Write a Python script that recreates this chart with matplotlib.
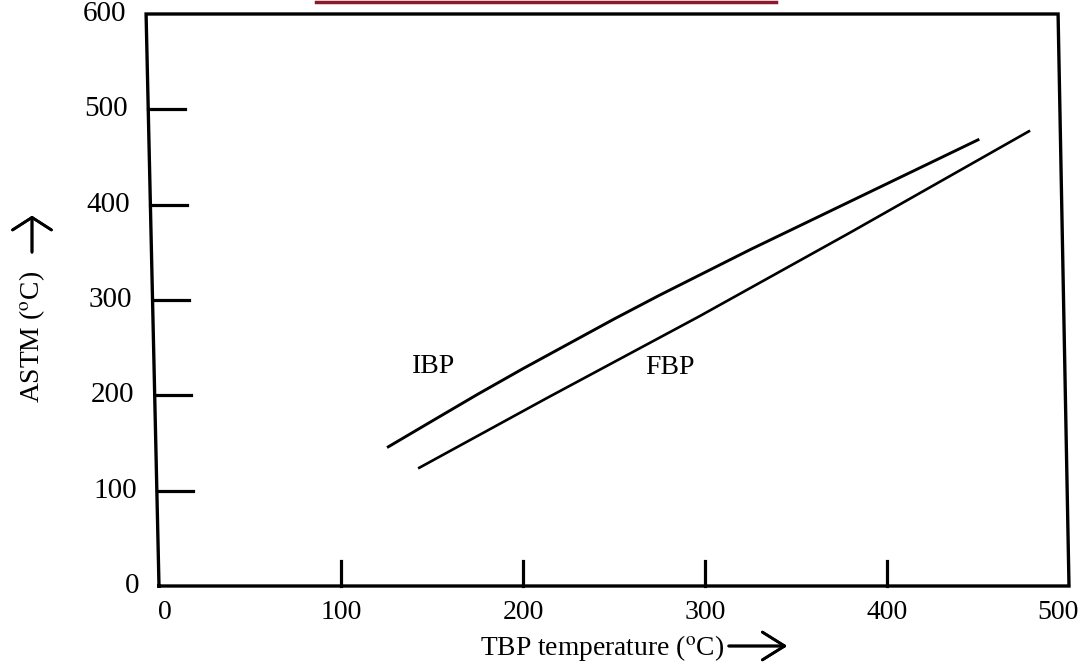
import numpy as np
import matplotlib.pyplot as plt
from matplotlib.lines import Line2D

plt.rcParams['font.family'] = ['Liberation Serif', 'DejaVu Serif']
plt.rcParams['mathtext.fontset'] = 'stix'

# datos (TBP vs ASTM)
ibp_tbp = [126, 150, 175, 200, 225, 250, 275, 300, 325, 350, 375, 400, 425, 450]
ibp_astm = [146, 173, 201, 228, 254, 280, 305, 329, 353, 376, 399, 422, 445, 468]
fbp_tbp = [143, 213, 297, 380, 478]
fbp_astm = [124, 197, 283, 371, 477]

x_ticks = [100, 200, 300, 400]
x_labels = ['0', '100', '200', '300', '400', '500']
y_ticks = [100, 200, 300, 400, 500]
y_labels = ['0', '100', '200', '300', '400', '500', '600']

fig = plt.figure(figsize=(10.85, 6.62), dpi=100)
ax = fig.add_axes([159 / 1085, 76 / 662, 910 / 1085, 572 / 662])
ax.set_xlim(0, 500)
ax.set_ylim(0, 600)
ax.axis('off')

# marco (un poco inclinado, como el escaneo)
lean_l = -7.1
lean_r = -6.0
frame_x = [0, lean_l, 500 + lean_r, 500, 0]
frame_y = [0, 600, 600, 0, 0]
ax.plot(frame_x, frame_y, color='black', lw=2.4, clip_on=False,
        solid_joinstyle='miter')

def borde_izq(y):
    return lean_l * y / 600

# ticks eje y
for y in y_ticks:
    x0 = borde_izq(y)
    ax.plot([x0, x0 + 20], [y, y], color='black', lw=2.3, clip_on=False)
for i, lab in enumerate(y_labels):
    y = i * 100
    ax.text(borde_izq(y) - 11, y, lab, ha='right', va='center', fontsize=21)

# ticks eje x
for x in x_ticks:
    ax.plot([x, x], [0, 26], color='black', lw=2.3, clip_on=False)
for i, lab in enumerate(x_labels):
    x = i * 100
    if i == 0:
        x = 3
    if i == 5:
        x = 494
    ax.text(x, -28, lab, ha='center', va='center', fontsize=20)

# curvas
ax.plot(ibp_tbp, ibp_astm, color='black', lw=2.1)
ax.plot(fbp_tbp, fbp_astm, color='black', lw=1.9)
ax.text(151, 230, 'IBP', ha='center', va='center', fontsize=20)
ax.text(281, 229, 'FBP', ha='center', va='center', fontsize=20)

# etiquetas de ejes con flechas
fig.text(480 / 1085, 1 - 648 / 662, r'TBP temperature ($^{\mathrm{o}}$C)',
         ha='left', va='center', fontsize=19.8)
fig.text(32 / 1085, 1 - 337 / 662, r'ASTM ($^{\mathrm{o}}$C)',
         ha='center', va='center', fontsize=19.8, rotation=90)
fig.add_artist(plt.annotate('', xy=(790 / 1085, 1 - 646 / 662),
                            xytext=(726 / 1085, 1 - 646 / 662),
                            xycoords='figure fraction',
                            arrowprops=dict(arrowstyle='->,head_length=0.8,head_width=0.5',
                                            mutation_scale=20, lw=2.0, color='black')))
fig.add_artist(plt.annotate('', xy=(32 / 1085, 1 - 213 / 662),
                            xytext=(32 / 1085, 1 - 255 / 662),
                            xycoords='figure fraction',
                            arrowprops=dict(arrowstyle='->,head_length=0.45,head_width=0.7',
                                            mutation_scale=20, lw=2.0, color='black')))

# linea roja cortada arriba
fig.add_artist(Line2D([316 / 1085, 776 / 1085], [1 - 1.5 / 662, 1 - 1.5 / 662],
                      transform=fig.transFigure, color='#8b1a2b', lw=2.5))

fig.savefig('out.png', dpi=100)
